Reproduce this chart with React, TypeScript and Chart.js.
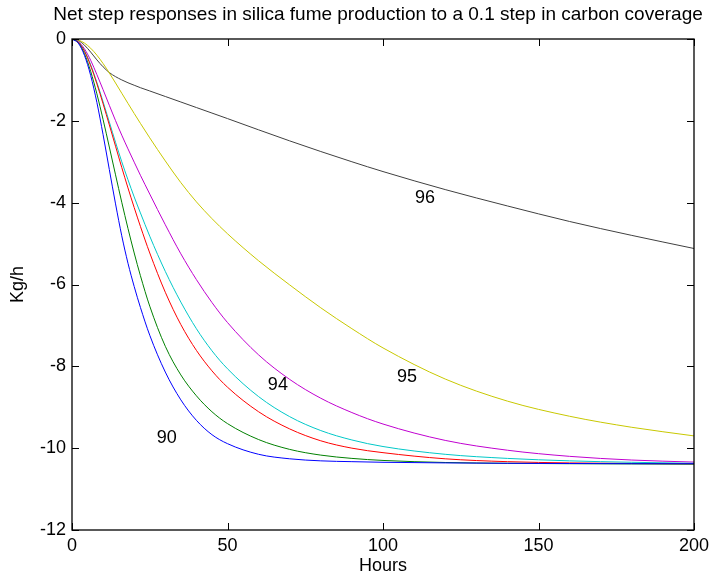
import React, { useEffect, useRef } from "react";
import { Chart, registerables } from "chart.js";

Chart.register(...registerables);

const hours = [0, 2, 4, 6, 8, 10, 12, 14, 16, 18, 20, 22, 25, 30, 35, 40, 45, 50, 60, 70, 80, 90, 100, 120, 140, 160, 180, 200];

const s90 = [0, -0.10, -0.40, -0.89, -1.55, -2.34, -3.19, -4.03, -4.81, -5.48, -6.05, -6.56, -7.24, -8.14, -8.82, -9.32, -9.67, -9.89, -10.15, -10.26, -10.31, -10.33, -10.345, -10.36, -10.37, -10.375, -10.38, -10.38];
const s91 = [0, -0.09, -0.36, -0.79, -1.34, -1.97, -2.64, -3.32, -3.99, -4.63, -5.23, -5.785, -6.53, -7.51, -8.21, -8.72, -9.11, -9.40, -9.79, -10.03, -10.17, -10.25, -10.30, -10.35, -10.37, -10.38, -10.385, -10.39];
const s92 = [0, -0.075, -0.30, -0.655, -1.095, -1.585, -2.10, -2.62, -3.14, -3.64, -4.12, -4.58, -5.23, -6.19, -6.98, -7.61, -8.11, -8.51, -9.11, -9.53, -9.82, -10.0, -10.11, -10.26, -10.33, -10.36, -10.375, -10.385];
const s93 = [0, -0.07, -0.285, -0.63, -1.06, -1.535, -2.03, -2.525, -3.0, -3.44, -3.86, -4.25, -4.82, -5.68, -6.43, -7.08, -7.62, -8.06, -8.74, -9.23, -9.57, -9.80, -9.96, -10.15, -10.25, -10.31, -10.345, -10.37];
const s94 = [0, -0.06, -0.24, -0.52, -0.87, -1.24, -1.62, -1.995, -2.35, -2.685, -3.01, -3.33, -3.79, -4.54, -5.25, -5.88, -6.44, -6.93, -7.72, -8.32, -8.78, -9.13, -9.41, -9.81, -10.05, -10.20, -10.29, -10.34];
const s95 = [0, -0.025, -0.10, -0.225, -0.395, -0.60, -0.83, -1.075, -1.325, -1.574, -1.82, -2.062, -2.416, -2.98, -3.51, -3.98, -4.39, -4.76, -5.42, -6.01, -6.57, -7.08, -7.55, -8.31, -8.85, -9.22, -9.49, -9.70];
const s96 = [0, -0.035, -0.15, -0.32, -0.51, -0.68, -0.82, -0.92, -1.0, -1.07, -1.13, -1.19, -1.27, -1.405, -1.54, -1.675, -1.81, -1.945, -2.22, -2.49, -2.75, -3.0, -3.24, -3.68, -4.08, -4.46, -4.80, -5.12];

const seriesNames = ["90", "91", "92", "93", "94", "95", "96"];
const seriesValues = [s90, s91, s92, s93, s94, s95, s96];
const seriesColors = ["#0000ff", "#008000", "#ff0000", "#00c8c8", "#c000d0", "#c8c800", "#404040"];

const labelTexts = ["90", "94", "95", "96"];
const labelX = [30.5, 66.2, 107.7, 113.5];
const labelY = [-9.75, -8.46, -8.26, -3.89];

const xTicks = [0, 50, 100, 150, 200];
const yTicks = [-12, -10, -8, -6, -4, -2, 0];

const titleText = "Net step responses in silica fume production to a 0.1 step in carbon coverage";
const xTitle = "Hours";
const yTitle = "Kg/h";

const FONT = "'Liberation Sans', Arial, Helvetica, sans-serif";

const decorPlugin = {
  id: "decor",
  afterDraw(chart: any) {
    const { ctx, chartArea, scales } = chart;
    const { left, right, top, bottom } = chartArea;
    ctx.save();
    ctx.strokeStyle = "#000";
    ctx.lineWidth = 1.3;
    ctx.strokeRect(left, top, right - left, bottom - top);
    const tl = 7;
    ctx.lineWidth = 1;
    ctx.beginPath();
    for (const v of xTicks) {
      const px = Math.round(scales.x.getPixelForValue(v)) + 0.5;
      ctx.moveTo(px, bottom);
      ctx.lineTo(px, bottom - tl);
      ctx.moveTo(px, top);
      ctx.lineTo(px, top + tl);
    }
    for (const v of yTicks) {
      const py = Math.round(scales.y.getPixelForValue(v)) + 0.5;
      ctx.moveTo(left, py);
      ctx.lineTo(left + tl, py);
      ctx.moveTo(right, py);
      ctx.lineTo(right - tl, py);
    }
    ctx.stroke();
    ctx.fillStyle = "#000";
    ctx.font = `18px ${FONT}`;
    ctx.textAlign = "center";
    ctx.textBaseline = "middle";
    labelTexts.forEach((t, i) => {
      ctx.fillText(t, scales.x.getPixelForValue(labelX[i]), scales.y.getPixelForValue(labelY[i]));
    });
    ctx.fillText(xTitle, (left + right) / 2, 566);
    ctx.save();
    ctx.translate(18, (top + bottom) / 2);
    ctx.rotate(-Math.PI / 2);
    ctx.fillText(yTitle, 0, 0);
    ctx.restore();
    ctx.font = `19px ${FONT}`;
    ctx.fillText(titleText, 378, 15);
    ctx.restore();
  },
};

export default function App() {
  const ref = useRef<HTMLCanvasElement>(null);
  useEffect(() => {
    document.body.style.margin = "0";
    const canvas = ref.current!;
    const chart = new Chart(canvas, {
      type: "line",
      data: {
        datasets: seriesValues.map((vals, i) => ({
          label: seriesNames[i],
          data: hours.map((h, j) => ({ x: h, y: vals[j] })),
          borderColor: seriesColors[i],
          backgroundColor: seriesColors[i],
          borderWidth: 1,
          pointRadius: 0,
          fill: false,
          cubicInterpolationMode: "monotone" as const,
        })),
      },
      options: {
        animation: false,
        responsive: false,
        maintainAspectRatio: false,
        layout: { padding: { top: 39, right: 17, left: 0, bottom: 0 } },
        plugins: {
          legend: { display: false },
          tooltip: { enabled: false },
          title: { display: false },
        },
        scales: {
          x: {
            type: "linear",
            min: 0,
            max: 200,
            afterFit: (s: any) => {
              s.height = 46;
              s.paddingLeft = 0;
              s.paddingRight = 0;
            },
            afterBuildTicks: (s: any) => {
              s.ticks = xTicks.map((v) => ({ value: v }));
            },
            grid: { display: false, drawTicks: false },
            border: { display: false },
            ticks: {
              color: "#000",
              font: { family: FONT, size: 18 },
              padding: 5,
              maxRotation: 0,
            },
          },
          y: {
            type: "linear",
            min: -12,
            max: 0,
            afterFit: (s: any) => {
              s.width = 72;
              s.paddingTop = 0;
              s.paddingBottom = 0;
            },
            afterBuildTicks: (s: any) => {
              s.ticks = yTicks.map((v) => ({ value: v }));
            },
            grid: { display: false, drawTicks: false },
            border: { display: false },
            ticks: {
              color: "#000",
              font: { family: FONT, size: 18 },
              padding: 6,
            },
          },
        },
      },
      plugins: [decorPlugin],
    });
    return () => chart.destroy();
  }, []);
  return (
    <div style={{ width: 711, height: 576, background: "#fff" }}>
      <canvas ref={ref} width={711} height={576} style={{ display: "block" }} />
    </div>
  );
}
